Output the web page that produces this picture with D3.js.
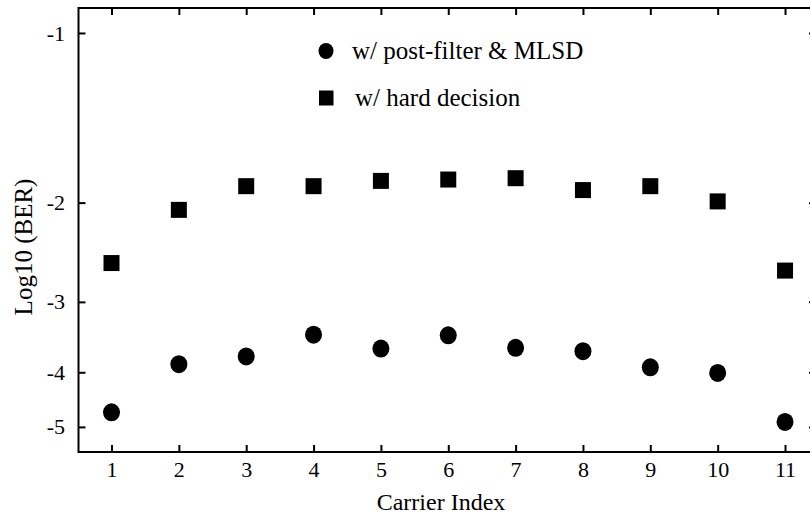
<!DOCTYPE html>
<html>
<head>
<meta charset="utf-8">
<script src="https://d3js.org/d3.v7.min.js"></script>
<style>
  body { margin: 0; background: white; }
  svg text { font-family: "Liberation Serif", "Times New Roman", Times, "Nimbus Roman", "DejaVu Serif", serif; }
</style>
</head>
<body>
<svg id="chart"></svg>
<script>
//chart data
var carriers = [1, 2, 3, 4, 5, 6, 7, 8, 9, 10, 11]
var mlsdBER = [-4.71, -3.87, -3.75, -3.43, -3.63, -3.44, -3.62, -3.67, -3.92, -4.01, -4.90]
var hardBER = [-2.56, -2.06, -1.87, -1.87, -1.83, -1.82, -1.81, -1.90, -1.87, -1.99, -2.64]
var yTicks = [-1, -2, -3, -4, -5]
var legendLabels = ["w/ post-filter & MLSD", "w/ hard decision"]

//svg dimensions
var dimensions = {
    width: 810,
    height: 516,
    margin: {
        top: 8,
        left: 78.5,
        bottom: 452,
        right: 816
    }
}

//drawing style
var inkColor = "black"
var frameStroke = 2
var tickLength = 7
var tickFontSize = 22
var titleFontSize = 24

var svg = d3.select("#chart")
            .attr("width", dimensions.width)
            .attr("height", dimensions.height)

//scales - y axis is log of the magnitude of log10(BER)
var xScale = d3.scaleLinear()
               .domain([0.51, 11.46])
               .range([dimensions.margin.left, dimensions.margin.right])
var yScale = d3.scaleLog()
               .domain([0.903, 5.54])
               .range([dimensions.margin.top, dimensions.margin.bottom])
var yPos = v => yScale(-v)

//axes with inward ticks
var xAxis = svg.append("g")
               .attr("transform", `translate(0,${dimensions.margin.bottom})`)
               .call(d3.axisBottom(xScale)
                       .tickValues(carriers)
                       .tickSizeInner(-tickLength)
                       .tickSizeOuter(0)
                       .tickPadding(9.5))
var xAxisTop = svg.append("g")
                  .attr("transform", `translate(0,${dimensions.margin.top})`)
                  .call(d3.axisTop(xScale)
                          .tickValues(carriers)
                          .tickSizeInner(-tickLength)
                          .tickSizeOuter(0)
                          .tickFormat(""))
var yAxis = svg.append("g")
               .attr("transform", `translate(${dimensions.margin.left},0)`)
               .call(d3.axisLeft(yScale)
                       .tickValues(yTicks.map(d => -d))
                       .tickSizeInner(-tickLength)
                       .tickSizeOuter(0)
                       .tickPadding(13.5)
                       .tickFormat(d => "-" + d))
var yAxisRight = svg.append("g")
                    .attr("transform", `translate(${dimensions.margin.right},0)`)
                    .call(d3.axisRight(yScale)
                            .tickValues(yTicks.map(d => -d))
                            .tickSizeInner(-tickLength)
                            .tickSizeOuter(0)
                            .tickFormat(""))

svg.selectAll(".domain").remove()
svg.selectAll(".tick line")
   .attr("stroke", inkColor)
   .attr("stroke-width", frameStroke)
svg.selectAll(".tick text")
   .attr("font-size", tickFontSize)
   .attr("fill", inkColor)

//frame
svg.append("rect")
   .attr("x", dimensions.margin.left)
   .attr("y", dimensions.margin.top)
   .attr("width", dimensions.margin.right - dimensions.margin.left)
   .attr("height", dimensions.margin.bottom - dimensions.margin.top)
   .attr("fill", "none")
   .attr("stroke", inkColor)
   .attr("stroke-width", frameStroke)

//hard decision squares
var squareSize = 16
svg.append("g")
   .selectAll("rect")
   .data(hardBER)
   .enter()
   .append("rect")
   .attr("x", (d, i) => xScale(carriers[i]) - squareSize / 2)
   .attr("y", d => yPos(d) - squareSize / 2)
   .attr("width", squareSize)
   .attr("height", squareSize)
   .attr("fill", inkColor)

//post-filter & MLSD circles
svg.append("g")
   .selectAll("ellipse")
   .data(mlsdBER)
   .enter()
   .append("ellipse")
   .attr("cx", (d, i) => xScale(carriers[i]))
   .attr("cy", d => yPos(d))
   .attr("rx", 8.5)
   .attr("ry", 9)
   .attr("fill", inkColor)

//legend
var legend = svg.append("g")
legend.append("ellipse")
      .attr("cx", 326)
      .attr("cy", 51)
      .attr("rx", 7.5)
      .attr("ry", 8)
      .attr("fill", inkColor)
legend.append("rect")
      .attr("x", 319)
      .attr("y", 90.5)
      .attr("width", 14.5)
      .attr("height", 15)
      .attr("fill", inkColor)
legend.selectAll("text")
      .data(legendLabels)
      .enter()
      .append("text")
      .attr("x", (d, i) => i == 0 ? 352 : 355)
      .attr("y", (d, i) => i == 0 ? 59 : 106)
      .attr("font-size", 25)
      .attr("fill", inkColor)
      .text(d => d)

//axis titles
svg.append("text")
   .attr("x", 441)
   .attr("y", 510)
   .attr("text-anchor", "middle")
   .attr("font-size", titleFontSize)
   .attr("fill", inkColor)
   .text("Carrier Index")
svg.append("text")
   .attr("transform", "translate(32,247) rotate(-90)")
   .attr("text-anchor", "middle")
   .attr("font-size", titleFontSize + 1)
   .attr("fill", inkColor)
   .text("Log10 (BER)")
</script>
</body>
</html>
